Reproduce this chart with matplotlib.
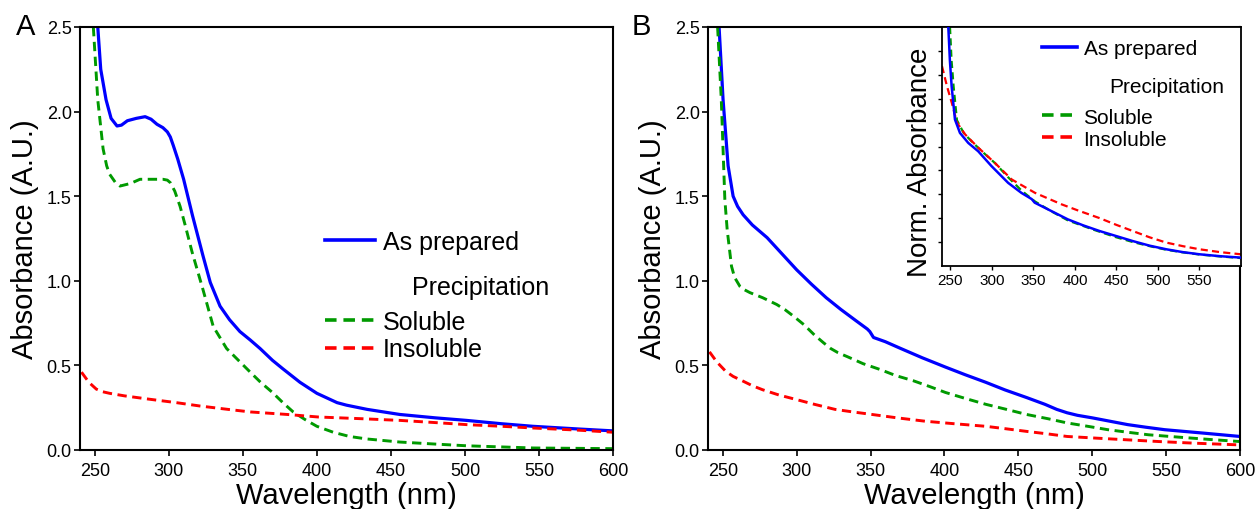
import matplotlib
matplotlib.use("Agg")
import matplotlib.pyplot as plt
from matplotlib.lines import Line2D

plt.rcParams['font.family'] = ['Liberation Sans', 'DejaVu Sans']

# ---------------- Panel A data ----------------
a_blue_x = [252, 254, 257.6, 261, 265, 268, 272, 278, 284, 288, 292, 296, 299, 301, 303, 306, 310, 316, 323, 328, 334.6, 341, 348, 355, 361.6, 370, 377, 388.6, 400, 413.6, 420, 434, 456, 480, 501, 525, 546, 575, 600]
a_blue_y = [2.5, 2.25, 2.07, 1.96, 1.915, 1.92, 1.946, 1.96, 1.97, 1.955, 1.925, 1.905, 1.88, 1.85, 1.80, 1.72, 1.60, 1.385, 1.15, 0.99, 0.85, 0.77, 0.70, 0.65, 0.60, 0.53, 0.48, 0.40, 0.335, 0.28, 0.265, 0.24, 0.21, 0.19, 0.175, 0.155, 0.14, 0.125, 0.113]

a_green_x = [249, 252, 255.6, 258, 260, 264, 267, 274, 280.5, 288, 296, 299, 301, 304, 307.6, 311, 315.7, 323, 330, 339, 347, 355, 362, 370, 377, 384, 392, 400, 411, 422, 434, 456, 480, 501, 546, 600]
a_green_y = [2.5, 2.07, 1.78, 1.68, 1.63, 1.58, 1.56, 1.575, 1.60, 1.60, 1.60, 1.595, 1.58, 1.53, 1.44, 1.33, 1.17, 0.95, 0.73, 0.60, 0.53, 0.46, 0.40, 0.34, 0.28, 0.225, 0.18, 0.14, 0.105, 0.08, 0.065, 0.047, 0.035, 0.025, 0.012, 0.008]

a_red_x = [241, 246, 251, 255, 260, 270, 287, 305, 321, 340, 355, 380, 401, 430, 456, 480, 501, 525, 546, 575, 600]
a_red_y = [0.46, 0.40, 0.36, 0.345, 0.335, 0.32, 0.30, 0.28, 0.26, 0.24, 0.225, 0.21, 0.195, 0.185, 0.175, 0.162, 0.15, 0.14, 0.13, 0.118, 0.105]

# ---------------- Panel B data ----------------
b_blue_x = [247.5, 250.2, 253.6, 257, 260, 263.8, 270, 280, 290, 300, 310, 320, 330, 340, 347.8, 349.5, 352, 360, 370.4, 385, 400.7, 414, 428, 441, 455.6, 468, 476, 483, 490, 500, 512, 524, 536, 549, 575, 600]
b_blue_y = [2.5, 2.07, 1.68, 1.50, 1.44, 1.39, 1.33, 1.255, 1.16, 1.065, 0.98, 0.90, 0.83, 0.765, 0.715, 0.70, 0.665, 0.64, 0.60, 0.545, 0.49, 0.445, 0.40, 0.355, 0.31, 0.27, 0.24, 0.22, 0.205, 0.19, 0.17, 0.15, 0.135, 0.12, 0.10, 0.08]

b_green_x = [246.5, 249, 251.4, 253, 255.9, 258, 261.6, 264, 268.4, 277, 286.5, 292, 298, 305, 312, 318, 323, 328, 334.7, 345, 356.7, 367, 378.7, 390, 400.7, 414, 428, 442, 455.6, 470, 483, 497, 510.6, 524, 538, 560, 580, 600]
b_green_y = [2.5, 2.07, 1.48, 1.30, 1.086, 1.02, 0.967, 0.95, 0.93, 0.90, 0.86, 0.83, 0.79, 0.74, 0.68, 0.635, 0.60, 0.575, 0.55, 0.51, 0.475, 0.44, 0.41, 0.375, 0.34, 0.305, 0.27, 0.24, 0.21, 0.185, 0.16, 0.14, 0.12, 0.105, 0.09, 0.075, 0.062, 0.05]

b_red_x = [241, 246, 252, 257, 263, 270, 277, 288, 299, 312, 326, 338, 351, 368, 387, 407, 428, 442, 455.6, 470, 483, 503, 524, 545, 570, 600]
b_red_y = [0.58, 0.52, 0.465, 0.435, 0.41, 0.38, 0.356, 0.325, 0.30, 0.27, 0.24, 0.225, 0.21, 0.19, 0.17, 0.155, 0.14, 0.125, 0.11, 0.095, 0.08, 0.07, 0.06, 0.05, 0.04, 0.03]

# ---------------- Inset (normalized) data ----------------
n_blue_x = [247.6, 249.5, 251.6, 255.6, 261.6, 271.6, 283.6, 299.6, 319.6, 335.6, 348, 351.6, 371.6, 391.6, 410, 430, 450, 470, 490, 510, 530, 550, 575, 600]
n_blue_y = [1.0, 0.86, 0.752, 0.613, 0.557, 0.515, 0.48, 0.418, 0.348, 0.306, 0.28, 0.265, 0.23, 0.195, 0.17, 0.146, 0.125, 0.104, 0.085, 0.07, 0.058, 0.049, 0.041, 0.035]

n_green_x = [249.6, 251.5, 254, 258, 266, 276, 288, 304, 320, 336, 352, 372, 392, 408, 424, 450, 470, 490, 510, 530, 550, 575, 600]
n_green_y = [1.0, 0.86, 0.75, 0.61, 0.557, 0.52, 0.48, 0.43, 0.37, 0.315, 0.27, 0.228, 0.19, 0.17, 0.15, 0.12, 0.1, 0.083, 0.068, 0.057, 0.048, 0.04, 0.033]

n_red_x = [240, 246, 252, 258, 268, 284, 304, 324, 352, 384, 404, 430, 450, 470, 490, 510, 530, 550, 575, 600]
n_red_y = [0.836, 0.752, 0.68, 0.60, 0.55, 0.494, 0.43, 0.362, 0.306, 0.258, 0.232, 0.2, 0.172, 0.146, 0.12, 0.098, 0.083, 0.07, 0.058, 0.049]

legend_labels = ["As prepared", "Soluble", "Insoluble"]
legend_title = "Precipitation"

xticks_main = [250, 300, 350, 400, 450, 500, 550, 600]
yticks_main = [0.0, 0.5, 1.0, 1.5, 2.0, 2.5]
xticks_inset = [250, 300, 350, 400, 450, 500, 550]
yticks_inset = [0.1, 0.2, 0.3, 0.4, 0.5, 0.6, 0.7, 0.8, 0.9]

BLUE = '#0000ff'
GREEN = '#009a00'
RED = '#ff0000'
DASH = (3.2, 1.9)

fig = plt.figure(figsize=(12.6, 5.1), dpi=100)
axA = fig.add_axes([80/1260, 59/510, 533/1260, 423/510])
axB = fig.add_axes([708/1260, 59/510, 532/1260, 423/510])
axI = fig.add_axes([942/1260, 243/510, 299/1260, 239/510])


def style_main(ax):
    ax.set_xlim(240, 600)
    ax.set_ylim(0, 2.5)
    ax.set_xticks(xticks_main)
    ax.set_yticks(yticks_main)
    ax.set_yticklabels([f"{v:.1f}" for v in yticks_main])
    ax.tick_params(axis='both', direction='out', length=4, width=1.2, labelsize=13, pad=2)
    ax.tick_params(axis='x', pad=5)
    for s in ax.spines.values():
        s.set_linewidth(1.5)
    ax.set_xlabel("Wavelength (nm)", fontsize=21, labelpad=1)
    ax.set_ylabel("Absorbance (A.U.)", fontsize=21)
    ax.yaxis.set_label_coords(-0.077, 0.5)


lw = 2.3
lwd = 2.1
axA.plot(a_blue_x, a_blue_y, color=BLUE, lw=lw)
axA.plot(a_green_x, a_green_y, color=GREEN, lw=lwd, dashes=DASH)
axA.plot(a_red_x, a_red_y, color=RED, lw=lwd, dashes=DASH)
style_main(axA)

axB.plot(b_blue_x, b_blue_y, color=BLUE, lw=lw)
axB.plot(b_green_x, b_green_y, color=GREEN, lw=lwd, dashes=DASH)
axB.plot(b_red_x, b_red_y, color=RED, lw=lwd, dashes=DASH)
style_main(axB)

axI.plot(n_blue_x, n_blue_y, color=BLUE, lw=1.8, zorder=3)
axI.plot(n_green_x, n_green_y, color=GREEN, lw=1.6, dashes=DASH, zorder=2)
axI.plot(n_red_x, n_red_y, color=RED, lw=1.6, dashes=DASH, zorder=2)
axI.set_xlim(240, 600)
axI.set_ylim(0, 1.0)
axI.set_xticks(xticks_inset)
axI.set_yticks(yticks_inset)
axI.set_yticklabels([])
axI.tick_params(axis='both', direction='out', length=3, width=1.0, labelsize=11, pad=2)
for s in axI.spines.values():
    s.set_linewidth(1.3)
axI.set_ylabel("Norm. Absorbance", fontsize=20)
axI.yaxis.set_label_coords(-0.03, 0.44)


def add_legends(ax, fs, x0, y_top, y_pair, x_title, y_title, hlen, hpad, lsp, lwl):
    h1 = [Line2D([], [], color=BLUE, lw=lwl)]
    leg1 = ax.legend(h1, [legend_labels[0]], loc='center left', bbox_to_anchor=(x0, y_top),
                     frameon=False, fontsize=fs, handlelength=hlen, handletextpad=hpad,
                     borderpad=0, borderaxespad=0)
    ax.add_artist(leg1)
    h2 = [Line2D([], [], color=GREEN, lw=lwl, dashes=DASH),
          Line2D([], [], color=RED, lw=lwl, dashes=DASH)]
    ax.legend(h2, legend_labels[1:], loc='center left', bbox_to_anchor=(x0, y_pair),
              frameon=False, fontsize=fs, handlelength=hlen, handletextpad=hpad,
              borderpad=0, borderaxespad=0, labelspacing=lsp)
    ax.text(x_title, y_title, legend_title, transform=ax.transAxes, fontsize=fs,
            ha='left', va='center')


add_legends(axA, 18, 0.46, 0.4917, 0.2707, 0.623, 0.385, 2.0, 0.32, 0.15, 2.6)
add_legends(axI, 15, 0.334, 0.908, 0.577, 0.56, 0.749, 1.7, 0.3, 0.15, 2.6)

fig.text(16/1260, 1 - 27/510, "A", fontsize=21, ha='left', va='center')
fig.text(632/1260, 1 - 27/510, "B", fontsize=21, ha='left', va='center')

fig.savefig("out.png", dpi=100, facecolor='white')
